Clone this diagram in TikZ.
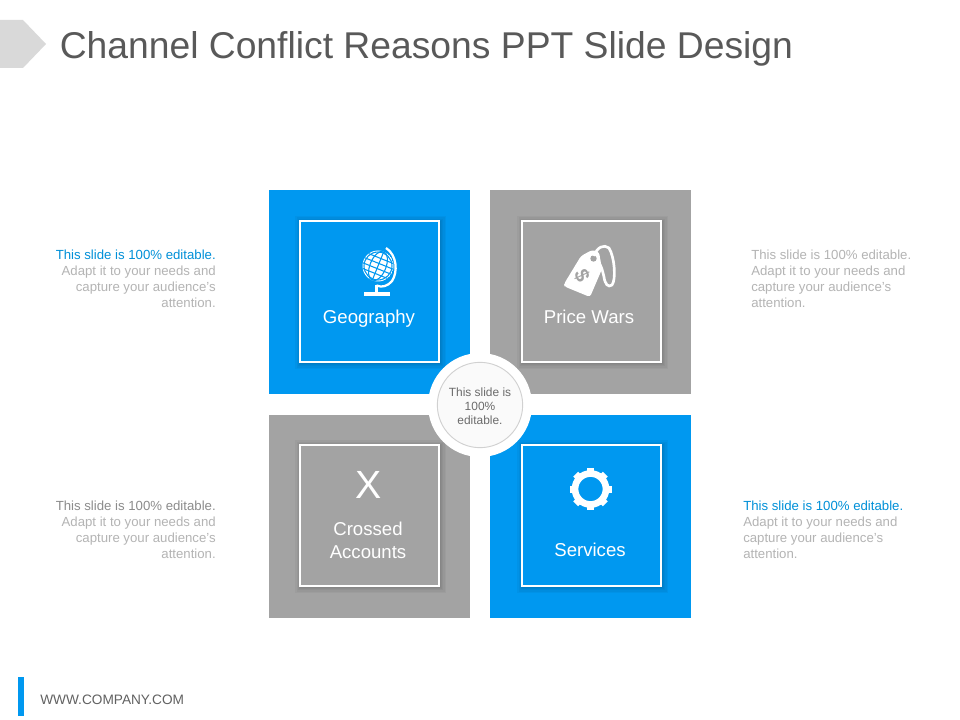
\documentclass[tikz,border=0pt]{standalone}
\usepackage{fontspec}
\setmainfont{Liberation Sans}
\definecolor{tileblue}{HTML}{0098F0}
\definecolor{tilegrey}{HTML}{A3A3A3}
\definecolor{titlegrey}{HTML}{595959}
\definecolor{sidegrey}{HTML}{B4B4B4}
\definecolor{sidedark}{HTML}{8C8C8C}
\definecolor{sideblue}{HTML}{0090D8}
\newcommand{\pxfont}[1]{\fontsize{#1}{#1}\selectfont}
\newcommand{\softshadow}[2]{%
  \foreach \g in {5,3.5,2,1,0}{%
    \fill[black,opacity=.035] (#1-70.5-\g+1,#2-71.5-\g+1) rectangle (#1+70.5+\g+1,#2+71.5+\g+1);}}
\tikzset{
  tile/.style={draw=none,minimum width=150.75pt,minimum height=152.6pt,inner sep=0pt},
  inner/.style={draw=white,line width=1.6pt,minimum width=104pt,minimum height=105.6pt,inner sep=0pt},
  label/.style={text=white,align=center,font=\pxfont{13.95},inner sep=0pt},
  side/.style={inner sep=0pt,text=sidegrey},
}
\begin{document}
\begin{tikzpicture}[x=.75pt,y=-.75pt]
\useasboundingbox (0,0) rectangle (960,720);
\fill[white] (0,0) rectangle (960,720);
% header
\fill[black!15] (0,20) -- (23,20) -- (46,44) -- (23,68) -- (0,68) -- cycle;
\node (title) [anchor=base west,inner sep=0pt,text=titlegrey,font=\pxfont{27.95}] at (59.5,58.5) {Channel Conflict Reasons PPT Slide Design};
% footer
\fill[tileblue] (18,677) rectangle (24,716);
\node (web) [anchor=base west,inner sep=0pt,text=black!62,font=\pxfont{10.25}] at (40,704) {WWW.COMPANY.COM};
% tiles
\node (t1) [tile,fill=tileblue] at (369.5,292) {};
\node (t2) [tile,fill=tilegrey] at (590.5,292) {};
\node (t3) [tile,fill=tilegrey] at (369.5,516.3) {};
\node (t4) [tile,fill=tileblue] at (590.5,516.3) {};
% inner boxes
\softshadow{369.5}{291.5}
\softshadow{591.5}{291.5}
\softshadow{369.5}{515.5}
\softshadow{591.5}{515.5}
\node (b1) [inner,fill=tileblue] at (369.5,291.5) {};
\node (b2) [inner,fill=tilegrey] at (591.5,291.5) {};
\node (b3) [inner,fill=tilegrey] at (369.5,515.5) {};
\node (b4) [inner,fill=tileblue] at (591.5,515.5) {};
% labels
\node (l1) [label,anchor=base] at (369,324) {Geography};
\node (l2) [label,anchor=base] at (589,324) {Price Wars};
\node (l3) [label,anchor=base] at (368,535) {Crossed};
\node (l3b) [label,anchor=base] at (368,558) {Accounts};
\node (l4) [label,anchor=base] at (590,556) {Services};
\node (xmark) [anchor=base,inner sep=0pt,text=white,font=\pxfont{29.5}] at (368.5,498.5) {X};
% globe
\begin{scope}
  \clip (378,266) circle (15.5);
  \fill[white] (378,266) circle (15.5);
  \begin{scope}[rotate around={-22:(378,266)}]
    \foreach \yy in {-8,-2.7,2.7,8}{\draw[tileblue,line width=.8pt] (355,266+\yy) -- (401,266+\yy);}
    \draw[tileblue,line width=.8pt] (378,250) -- (378,282);
    \draw[tileblue,line width=.8pt] (378,266) ellipse (8 and 15.5);
  \end{scope}
  \draw[tileblue,line width=.8pt] (378,266) circle (14);
\end{scope}
\draw[white,line width=1.7pt] (386,248) .. controls (397,255) and (398,272) .. (392,281) .. controls (388,286) and (382,288) .. (376.5,285.5);
\draw[white,line width=2.2pt] (376.5,285) -- (376.5,293);
\fill[white] (363.5,292) rectangle (389.5,296);
% tag
\fill[white,rounded corners=2pt] (581,256) -- (564,284) -- (564.5,286.5) -- (590,297) -- (602,269) -- (599,252) -- (592,250) -- cycle;
\fill[tilegrey] (593.5,258.5) circle (3.2);
\draw[white,line width=2pt] (594,256) .. controls (597,247) and (604,244) .. (609,248) .. controls (615,258) and (616,280) .. (612,285) .. controls (608,288) and (605,284) .. (604,277) .. controls (602,268) and (600,263) .. (597,260);
\node (dollar) [anchor=center,inner sep=0pt,text=tilegrey,font=\bfseries\pxfont{15},rotate=-65] at (582,276) {\$};
% gear
\begin{scope}[shift={(590.5,489)}]
  \foreach \a in {0,45,...,315}{\fill[white,rotate=\a] (-3.5,-15) rectangle (3.5,-21);}
  \draw[white,line width=5pt] (0,0) circle (15.5);
\end{scope}
% centre circle
\node (c0) [circle,fill=white,minimum size=78pt,inner sep=0pt] at (480,405) {};
\node (c1) [circle,fill=black!2,draw=black!18,line width=.7pt,minimum size=64pt,inner sep=0pt] at (480,405) {};
\node (ctext) [align=center,inner sep=0pt,text=black!58,font=\fontsize{8.95}{10.6}\selectfont] at (480,406.5) {This slide is\\100\%\\editable.};
% side text
\node (s1) [side,anchor=north east,align=right,font=\fontsize{9.9}{12}\selectfont] at (216,250) {\textcolor{sideblue}{This slide is 100\% editable.}\\Adapt it to your needs and\\capture your audience's\\attention.};
\node (s2) [side,anchor=north west,align=left,font=\fontsize{9.9}{12}\selectfont] at (751,250) {This slide is 100\% editable.\\Adapt it to your needs and\\capture your audience's\\attention.};
\node (s3) [side,anchor=north east,align=right,font=\fontsize{9.9}{12}\selectfont] at (216,501) {\textcolor{sidedark}{This slide is 100\% editable.}\\Adapt it to your needs and\\capture your audience's\\attention.};
\node (s4) [side,anchor=north west,align=left,font=\fontsize{9.9}{12}\selectfont] at (743,501) {\textcolor{sideblue}{This slide is 100\% editable.}\\Adapt it to your needs and\\capture your audience's\\attention.};
\end{tikzpicture}
\end{document}
